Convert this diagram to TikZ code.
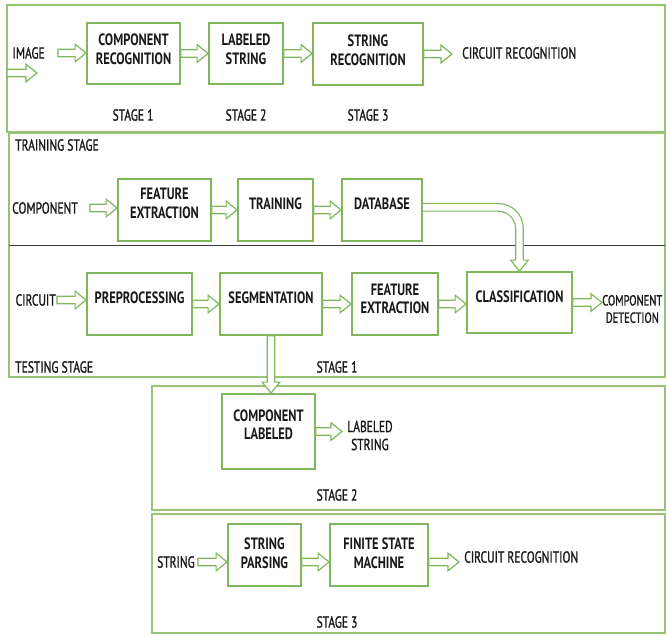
\documentclass[tikz,border=0pt]{standalone}
\usepackage{fontspec}
\setmainfont{PT Sans}[FakeStretch=0.76]
\newfontfamily\medfont{PT Sans}[FakeStretch=0.72, FakeBold=1.2]
\usetikzlibrary{calc}
\definecolor{bg}{RGB}{128,182,92}
\definecolor{sg}{RGB}{150,196,115}
\definecolor{tx}{RGB}{25,25,25}
\definecolor{dv}{RGB}{60,60,60}
\begin{document}
\begin{tikzpicture}[x=0.75pt,y=-0.75pt,
  box/.style n args={2}{draw=bg, line width=1.3pt, fill=white, inner sep=0pt, minimum width=#1, minimum height=#2},
  bt/.style={font=\bfseries\fontsize{12.3}{14}\selectfont, text=tx, align=center, inner sep=0pt},
  lab/.style={font=\medfont\fontsize{12}{13.5}\selectfont, text=tx, align=center, inner sep=0pt},
  sect/.style={draw=sg, line width=1.1pt},
  divider/.style={draw=dv, line width=0.6pt},
  harrow/.style={draw=bg, line width=0.9pt, fill=white, line join=miter,
    to path={let \p1=(\tikztostart), \p2=(\tikztotarget) in
      (\x1,\y1+2.85pt) -- (\x2-8.25pt,\y1+2.85pt) -- (\x2-8.25pt,\y1+6.6pt) -- (\x2,\y1)
      -- (\x2-8.25pt,\y1-6.6pt) -- (\x2-8.25pt,\y1-2.85pt) -- (\x1,\y1-2.85pt) -- cycle}},
  varrow/.style={draw=bg, line width=0.9pt, fill=white, line join=miter,
    to path={let \p1=(\tikztostart), \p2=(\tikztotarget) in
      (\x1-2.85pt,\y1) -- (\x1-2.85pt,\y2+8.25pt) -- (\x1-6.6pt,\y2+8.25pt) -- (\x1,\y2)
      -- (\x1+6.6pt,\y2+8.25pt) -- (\x1+2.85pt,\y2+8.25pt) -- (\x1+2.85pt,\y1) -- cycle}},
  dline/.style={draw=bg, line width=0.9pt, double=white, double distance=4.8pt, rounded corners=16pt},
  head/.style={draw=bg, line width=0.9pt, fill=white, line join=miter}
]
\fill[white] (0,0) rectangle (667,636);
\useasboundingbox (0,0) rectangle (667,636);

% ---------- overview ----------
\draw[sect] (7,5) rectangle (665,132);
\node[lab, anchor=east] (img) at (45,53) {IMAGE};
\node[box={69.75pt}{45.75pt}, label={[bt,yshift=3.4pt]center:{COMPONENT\\RECOGNITION}}] (cr) at (133.5,53.5) {};
\node[box={55.5pt}{45.75pt}, label={[bt,yshift=3pt]center:{LABELED\\STRING}}] (ls) at (246,53.5) {};
\node[box={82.5pt}{46.5pt}, label={[bt,yshift=3pt]center:{STRING\\RECOGNITION}}] (sr) at (368,54) {};
\node[lab, anchor=west] (crr) at (462,53) {CIRCUIT RECOGNITION};
\node[lab] (s1) at (133,115) {STAGE 1};
\node[lab] (s2) at (246,115) {STAGE 2};
\node[lab] (s3) at (368,115) {STAGE 3};
\draw[harrow] ($(img.east)+(13,0)$) to (cr.west);
\draw[harrow] (cr.east) to (ls.west);
\draw[harrow] (ls.east) to (sr.west);
\draw[harrow] (sr.east) to ($(crr.west)+(-10,0)$);
\coordinate (art) at (7,73);
\draw[harrow] (art) to ($(art)+(30,0)$);

% ---------- stage 1: training / testing ----------
\draw[sect] (9,133) rectangle (665,377);
\draw[divider] (9,245) -- (665,245);
\node[lab, anchor=west] (tst) at (15,145) {TRAINING STAGE};
\node[lab, anchor=east] (comp) at (78,208) {COMPONENT};
\node[box={69.75pt}{46.5pt}, label={[bt,yshift=5pt]center:{FEATURE\\EXTRACTION}}] (fe1) at (164.5,210) {};
\node[box={56.25pt}{46.5pt}, label={[bt,yshift=5pt]center:{TRAINING}}] (tr) at (275.5,210) {};
\node[box={60pt}{46.5pt}, label={[bt,yshift=5pt]center:{DATABASE}}] (db) at (382,210) {};
\draw[harrow] ($(comp.east)+(12,0)$) to (fe1.west);
\draw[harrow] (fe1.east) to (tr.west);
\draw[harrow] (tr.east) to (db.west);

\node[lab, anchor=east] (circ) at (56,300) {CIRCUIT};
\node[box={78.75pt}{46.5pt}, label={[bt,yshift=4.5pt]center:{PREPROCESSING}}] (pp) at (139.5,304) {};
\node[box={76.5pt}{46.5pt}, label={[bt,yshift=4.5pt]center:{SEGMENTATION}}] (seg) at (271,304) {};
\node[box={64.5pt}{46.5pt}, label={[bt,yshift=4pt]center:{FEATURE\\EXTRACTION}}] (fe2) at (395,304) {};
\node[box={78.75pt}{45.75pt}, label={[bt,yshift=4pt]center:{CLASSIFICATION}}] (cls) at (519.5,302.5) {};
\node[lab, font=\medfont\fontsize{11}{13}\selectfont, anchor=west] (cd) at (602,309) {COMPONENT\\DETECTION};
\node[lab, anchor=west] (tes) at (15,367) {TESTING STAGE};
\node[lab] (s1b) at (337,367) {STAGE 1};
\draw[harrow] ($(circ.east)+(1,0)$) to (pp.west);
\draw[harrow] (pp.east) to (seg.west);
\draw[harrow] (seg.east) to (fe2.west);
\draw[harrow] (fe2.east) to (cls.west);
\draw[harrow] (cls.east) to (cd.west);
\draw[dline] ([yshift=2pt]db.east) -| ($(cls.north)+(0,-10)$);
\draw[head] ($(cls.north)+(-3.8,-11)$) -- ($(cls.north)+(-8.8,-11)$) -- (cls.north)
  -- ($(cls.north)+(8.8,-11)$) -- ($(cls.north)+(3.8,-11)$);

% ---------- stage 2 ----------
\draw[sect] (152,386) rectangle (665,510);
\node[box={69.75pt}{56.25pt}, label={[bt,yshift=5pt]center:{COMPONENT\\LABELED}}] (cl) at (268.5,431.5) {};
\node[lab, anchor=west] (lsl) at (347,435.5) {LABELED\\STRING};
\node[lab] (s2b) at (337,495) {STAGE 2};
\draw[varrow] (seg.south) to (seg.south |- cl.north);
\draw[harrow] (cl.east) to ($(lsl.west)+(-5,0)$);

% ---------- stage 3 ----------
\draw[sect] (152,514) rectangle (665,633);
\node[lab, anchor=east] (str) at (195,562) {STRING};
\node[box={54.75pt}{46.5pt}, label={[bt,yshift=1.5pt]center:{STRING\\PARSING}}] (sp) at (264.5,555) {};
\node[box={73.5pt}{46.5pt}, label={[bt,yshift=1.5pt]center:{FINITE STATE\\MACHINE}}] (fsm) at (379,555) {};
\node[lab, anchor=west] (crr2) at (464,557) {CIRCUIT RECOGNITION};
\node[lab] (s3b) at (337,622) {STAGE 3};
\draw[harrow] ($(str.east)+(3,0)$) to (sp.west);
\draw[harrow] ([yshift=-5.25pt]sp.east) to (fsm.west);
\draw[harrow] ([yshift=-5.25pt]fsm.east) to ($(crr2.west)+(-5,0)$);
\end{tikzpicture}
\end{document}
